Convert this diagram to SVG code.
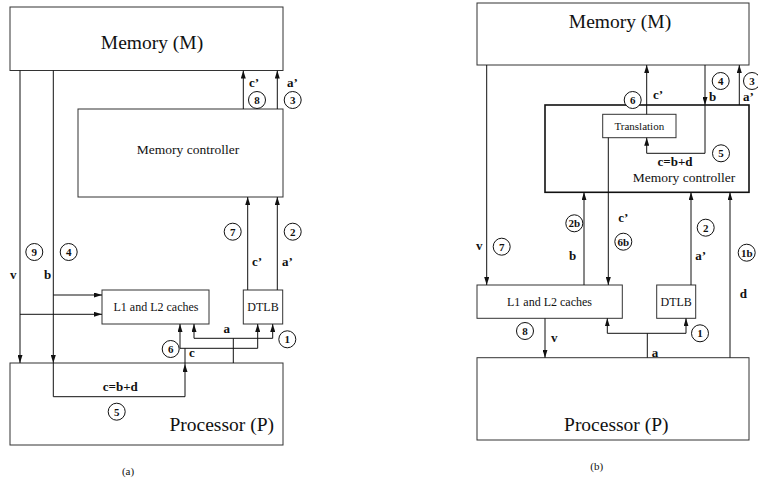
<svg xmlns="http://www.w3.org/2000/svg" width="758" height="483" viewBox="0 0 758 483">
<defs>
<marker id="ah" viewBox="0 0 8 5" refX="8" refY="2.5" markerWidth="8" markerHeight="5" markerUnits="userSpaceOnUse" orient="auto">
<path d="M0,0 L8,2.5 L0,5 z" fill="#111"/>
</marker>
<style>
.box{fill:#fff;stroke:#333;stroke-width:1}
.thick{stroke:#111;stroke-width:1.6}
.ln{fill:none;stroke:#111;stroke-width:1}
.arr{fill:none;stroke:#111;stroke-width:1;marker-end:url(#ah)}
.big{font-family:"Liberation Serif",serif;font-size:19.5px;fill:#111}
.mid{font-family:"Liberation Serif",serif;font-size:13.5px;fill:#111}
.sm{font-family:"Liberation Serif",serif;font-size:12px;fill:#111}
.xs{font-family:"Liberation Serif",serif;font-size:11px;fill:#111}
.lbl{font-family:"Liberation Serif",serif;font-size:13px;font-weight:bold;fill:#111}
.cir{fill:#fff;stroke:#111;stroke-width:1}
.num{font-family:"Liberation Serif",serif;font-size:11px;font-weight:bold;fill:#111;text-anchor:middle}
.c{text-anchor:middle}
</style>
</defs>
<rect width="758" height="483" fill="#fff"/>

<!-- ===== Diagram (a) ===== -->
<g id="a-memory"><rect class="box" x="10" y="7" width="273" height="63.5"/><text class="big c" x="152" y="49">Memory (M)</text></g>
<g id="a-memctrl"><rect class="box" x="78" y="109" width="205" height="88"/><text class="mid c" x="188" y="154">Memory controller</text></g>
<g id="a-caches"><rect class="box" x="102" y="290" width="107" height="34"/><text class="sm c" x="156" y="311">L1 and L2 caches</text></g>
<g id="a-dtlb"><rect class="box" x="243.3" y="290" width="39.4" height="34"/><text class="sm c" x="263" y="311">DTLB</text></g>
<g id="a-processor"><rect class="box" x="10" y="363" width="273" height="82"/><text class="big" x="274" y="431" text-anchor="end">Processor (P)</text></g>

<g id="a-connectors">
<path class="arr" d="M20,70.5 V363"/>
<path class="arr" d="M53.3,70.5 V363"/>
<path class="arr" d="M53.3,363 V396.7 H185 V364"/>
<path class="ln" d="M185,364 V348.3"/>
<path class="ln" d="M180,348.3 H257.7"/>
<path class="arr" d="M180,348.3 V324"/>
<path class="arr" d="M257.7,348.3 V324"/>
<path class="ln" d="M233.3,363 V338.3"/>
<path class="ln" d="M194,338.3 H272.7"/>
<path class="arr" d="M194,338.3 V324"/>
<path class="arr" d="M272.7,338.3 V324"/>
<path class="arr" d="M53.3,295 H102"/>
<path class="arr" d="M20,314.3 H102"/>
<path class="arr" d="M247.7,290 V197"/>
<path class="arr" d="M277.3,290 V197"/>
<path class="arr" d="M243.3,109 V70.5"/>
<path class="arr" d="M277.3,109 V70.5"/>
</g>

<g id="a-labels">
<text class="lbl" x="249" y="87">c’</text>
<text class="lbl" x="287" y="87">a’</text>
<circle class="cir" cx="257" cy="100" r="8.5"/><text class="num" x="257" y="104">8</text>
<circle class="cir" cx="292.7" cy="100" r="8.5"/><text class="num" x="292.7" y="104">3</text>
<circle class="cir" cx="232.7" cy="231.7" r="8.5"/><text class="num" x="232.7" y="235.7">7</text>
<circle class="cir" cx="292.7" cy="231.7" r="8.5"/><text class="num" x="292.7" y="235.7">2</text>
<text class="lbl" x="252" y="266">c’</text>
<text class="lbl" x="282" y="266">a’</text>
<circle class="cir" cx="34.3" cy="252" r="8.5"/><text class="num" x="34.3" y="256">9</text>
<circle class="cir" cx="68.7" cy="252" r="8.5"/><text class="num" x="68.7" y="256">4</text>
<text class="lbl c" x="13.3" y="279">v</text>
<text class="lbl c" x="47.5" y="279">b</text>
<text class="lbl c" x="226.7" y="333">a</text>
<text class="lbl" x="189" y="357">c</text>
<circle class="cir" cx="287.3" cy="339.3" r="8.5"/><text class="num" x="287.3" y="343.3">1</text>
<circle class="cir" cx="170.7" cy="349" r="8.5"/><text class="num" x="170.7" y="353">6</text>
<text class="lbl c" x="120.3" y="391">c=b+d</text>
<circle class="cir" cx="116.7" cy="411.7" r="8.5"/><text class="num" x="116.7" y="415.7">5</text>
<text class="xs c" x="128" y="475">(a)</text>
</g>

<!-- ===== Diagram (b) ===== -->
<g id="b-memory"><rect class="box" x="477" y="3" width="272" height="62"/><text class="big c" x="620" y="28">Memory (M)</text></g>
<g id="b-memctrl"><rect class="box thick" x="545" y="105" width="204" height="87.3"/><text class="mid c" x="684" y="181.7">Memory controller</text></g>
<g id="b-translation"><rect class="box" x="602.7" y="114.3" width="73.3" height="23.4"/><text class="xs c" x="639.3" y="130">Translation</text></g>
<g id="b-caches"><rect class="box" x="477" y="285" width="145.3" height="33.3"/><text class="sm c" x="549.5" y="306">L1 and L2 caches</text></g>
<g id="b-dtlb"><rect class="box" x="656.7" y="285" width="39" height="33.3"/><text class="sm c" x="676.2" y="306">DTLB</text></g>
<g id="b-processor"><rect class="box" x="477" y="357.7" width="272" height="82.3"/><text class="big c" x="616.3" y="431">Processor (P)</text></g>

<g id="b-connectors">
<path class="arr" d="M646.7,114.3 V65"/>
<path class="arr" d="M705,65 V105"/>
<path class="arr" d="M705,105 V153.3 H646.7 V137.7"/>
<path class="arr" d="M739.3,105 V65"/>
<path class="arr" d="M486.7,65 V285"/>
<path class="arr" d="M584,285 V192.3"/>
<path class="arr" d="M608.3,137.7 V285"/>
<path class="arr" d="M691,285 V192.3"/>
<path class="arr" d="M730,357.7 V192.3"/>
<path class="arr" d="M545,318.3 V357.7"/>
<path class="ln" d="M647.3,357.7 V333.3"/>
<path class="ln" d="M607.3,333.3 H686"/>
<path class="arr" d="M607.3,333.3 V318.3"/>
<path class="arr" d="M686,333.3 V318.3"/>
</g>

<g id="b-labels">
<circle class="cir" cx="632.7" cy="100" r="8.5"/><text class="num" x="632.7" y="104">6</text>
<text class="lbl" x="653" y="99">c’</text>
<circle class="cir" cx="720.7" cy="81" r="8.5"/><text class="num" x="720.7" y="85">4</text>
<text class="lbl" x="709" y="101">b</text>
<circle class="cir" cx="752" cy="81" r="8.5"/><text class="num" x="752" y="85">3</text>
<text class="lbl" x="743" y="101">a’</text>
<circle class="cir" cx="721" cy="153.3" r="8.5"/><text class="num" x="721" y="157.3">5</text>
<text class="lbl c" x="675" y="166">c=b+d</text>
<text class="lbl c" x="479.3" y="250">v</text>
<circle class="cir" cx="501.7" cy="246.7" r="8.5"/><text class="num" x="501.7" y="250.7">7</text>
<circle class="cir" cx="574.3" cy="223.3" r="8.5"/><text class="num" x="574.3" y="227.3">2b</text>
<text class="lbl c" x="572.7" y="260">b</text>
<text class="lbl c" x="623.3" y="222">c’</text>
<circle class="cir" cx="623.3" cy="241.7" r="8.5"/><text class="num" x="623.3" y="245.7">6b</text>
<circle class="cir" cx="705.7" cy="227.7" r="8.5"/><text class="num" x="705.7" y="231.7">2</text>
<text class="lbl c" x="700.7" y="260">a’</text>
<circle class="cir" cx="746.7" cy="252.7" r="8.5"/><text class="num" x="746.7" y="256.7">1b</text>
<text class="lbl c" x="743.3" y="298">d</text>
<circle class="cir" cx="525" cy="331" r="8.5"/><text class="num" x="525" y="335">8</text>
<text class="lbl" x="551" y="342">v</text>
<circle class="cir" cx="700" cy="333.3" r="8.5"/><text class="num" x="700" y="337.3">1</text>
<text class="lbl c" x="655" y="357">a</text>
<text class="xs c" x="596.7" y="470">(b)</text>
</g>
</svg>
